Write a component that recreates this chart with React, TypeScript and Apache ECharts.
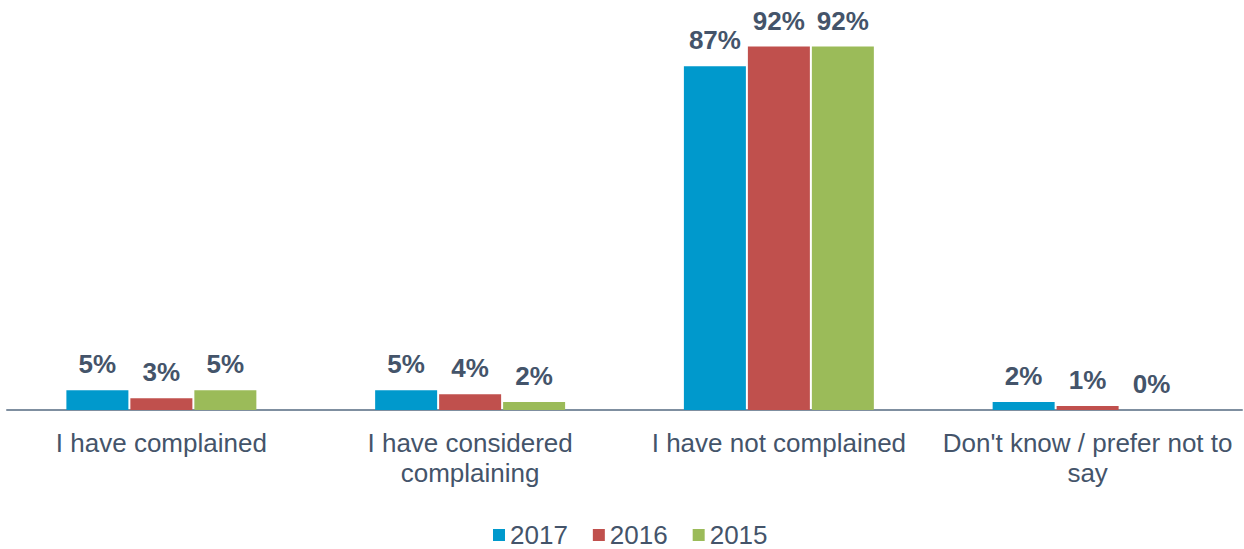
import React, { useEffect, useRef } from "react";
import * as echarts from "echarts";

const categories = [
  "I have complained",
  "I have considered\ncomplaining",
  "I have not complained",
  "Don't know / prefer not to\nsay",
];
const years = ["2017", "2016", "2015"];
const values2017 = [5, 5, 87, 2];
const values2016 = [3, 4, 92, 1];
const values2015 = [5, 2, 92, 0];
const colors = ["#0099CC", "#C0504D", "#9BBB59"];

export default function App() {
  const ref = useRef<HTMLDivElement>(null);
  useEffect(() => {
    if (!ref.current) return;
    const chart = echarts.init(ref.current, null, { renderer: "svg" });
    const seriesData = [values2017, values2016, values2015];
    chart.setOption({
      animation: false,
      textStyle: { fontFamily: "Liberation Sans, Arial, sans-serif" },
      grid: { left: 7, right: 2, top: 15, bottom: 139, containLabel: false },
      legend: {
        top: 517,
        left: 488,
        itemWidth: 12,
        itemHeight: 12,
        itemGap: 25,
        icon: "rect",
        textStyle: { fontSize: 26, color: "#44546A", fontFamily: "Liberation Sans, Arial, sans-serif" },
        data: years,
      },
      xAxis: {
        type: "category",
        data: categories,
        axisLine: { show: true, lineStyle: { color: "#7F8FA0", width: 2 } },
        axisTick: { show: false },
        axisLabel: {
          fontSize: 26,
          color: "#44546A",
          margin: 18,
          lineHeight: 30,
          interval: 0,
        },
      },
      yAxis: {
        type: "value",
        min: 0,
        max: 100,
        show: false,
        splitLine: { show: false },
      },
      series: years.map((y, i) => ({
        name: y,
        type: "bar",
        data: seriesData[i],
        barWidth: 62,
        barGap: "3.2%",
        itemStyle: { color: colors[i] },
        label: {
          show: true,
          position: "top",
          distance: 13,
          fontSize: 26,
          fontWeight: "bold",
          color: "#44546A",
          formatter: "{c}%",
        },
      })),
    });
    return () => chart.dispose();
  }, []);
  return (
    <div
      ref={ref}
      style={{ position: "absolute", left: 0, top: 0, width: 1244, height: 549 }}
    />
  );
}
